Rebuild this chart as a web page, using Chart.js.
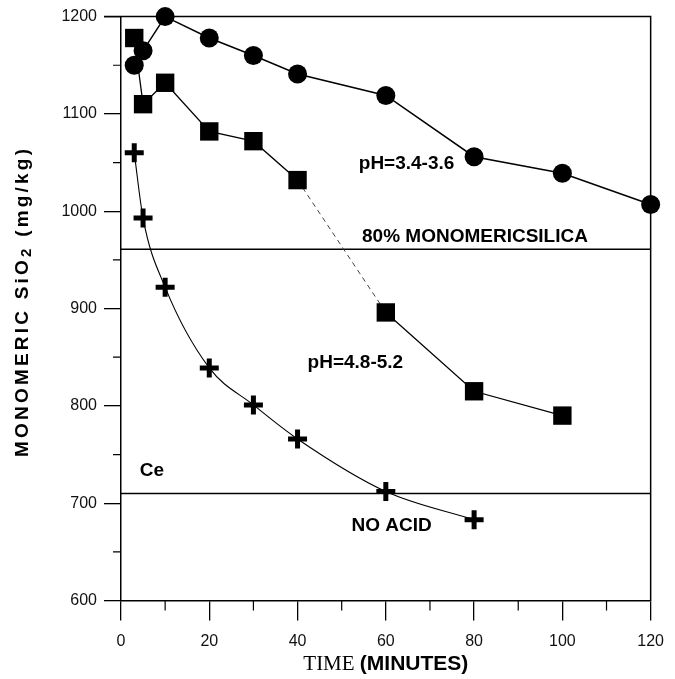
<!DOCTYPE html>
<html>
<head>
<meta charset="utf-8">
<script src="https://cdn.jsdelivr.net/npm/chart.js@4.4.1/dist/chart.umd.min.js"></script>
<style>
  html, body { margin: 0; padding: 0; background: #fff; }
  #wrap { width: 675px; height: 679px; }
</style>
</head>
<body>
<div id="wrap"><canvas id="grafica" width="675" height="679"></canvas></div>
<script>
// Datos (tiempo en minutos, SiO2 en mg/kg)
const tiempos = [3, 5, 10, 20, 30, 40, 60, 80, 100, 120];
const sio2Ph34 = [1150, 1165, 1200, 1178, 1160, 1141, 1119, 1056, 1039, 1007];
const sio2Ph48 = [1178, 1110, 1132, 1082, 1072, 1032, 896, 815, 790];
const sio2SinAcido = [1060, 993, 922, 839, 801, 766, 712, 683];
const valorCe = 710;
const limite80 = 961;
const ticksX = [0, 20, 40, 60, 80, 100, 120];
const ticksXMenores = [10, 30, 50, 70, 90, 110];
const ticksY = [600, 700, 800, 900, 1000, 1100, 1200];
const ticksYMenores = [650, 750, 850, 950, 1050, 1150];

// Rótulos dentro del gráfico (texto, minuto, valor)
const notas = [
    ['pH=3.4-3.6', 64.7, 1049],
    ['80% MONOMERICSILICA', 80.2, 974],
    ['pH=4.8-5.2', 53.1, 844],
    ['Ce', 7, 733],
    ['NO ACID', 61.3, 677]
];

function puntos(ys) {
    return ys.map((y, i) => ({ x: tiempos[i], y: y }));
}

const SANS = "'Liberation Sans', Arial, sans-serif";

// Marco, líneas auxiliares, ticks menores, títulos y rótulos
const decoracion = {
    id: 'decoracion',
    beforeDatasetsDraw(chart) {
        const ctx = chart.ctx;
        const a = chart.chartArea;
        const sx = chart.scales.x;
        const sy = chart.scales.y;
        ctx.save();
        ctx.strokeStyle = '#000';
        ctx.lineWidth = 1.5;
        ctx.beginPath();
        ctx.moveTo(a.left - 17, a.top);
        ctx.lineTo(a.right, a.top);
        ctx.lineTo(a.right, a.bottom);
        const yl = sy.getPixelForValue(limite80);
        ctx.moveTo(a.left, yl);
        ctx.lineTo(a.right, yl);
        ctx.stroke();

        ctx.lineWidth = 1.2;
        ctx.beginPath();
        ticksXMenores.forEach(v => {
            const px = sx.getPixelForValue(v);
            ctx.moveTo(px, a.bottom);
            ctx.lineTo(px, a.bottom + 10);
        });
        ticksYMenores.forEach(v => {
            const py = sy.getPixelForValue(v);
            ctx.moveTo(a.left - 8, py);
            ctx.lineTo(a.left, py);
        });
        ctx.stroke();
        ctx.restore();
    },
    afterDraw(chart) {
        const ctx = chart.ctx;
        const a = chart.chartArea;
        const sx = chart.scales.x;
        const sy = chart.scales.y;
        ctx.save();
        ctx.fillStyle = '#000';
        ctx.textAlign = 'center';
        ctx.textBaseline = 'middle';
        ctx.font = 'bold 19px ' + SANS;
        notas.forEach(n => {
            ctx.fillText(n[0], sx.getPixelForValue(n[1]), sy.getPixelForValue(n[2]));
        });

        // Título del eje X: "TIME" con serifa y "(MINUTES)" en negrita
        const f1 = "21px 'Liberation Serif', 'Times New Roman', serif";
        const f2 = 'bold 21px ' + SANS;
        ctx.font = f1;
        const w1 = ctx.measureText('TIME ').width;
        ctx.font = f2;
        const w2 = ctx.measureText('(MINUTES)').width;
        let x0 = (a.left + a.right) / 2 - (w1 + w2) / 2;
        ctx.textAlign = 'left';
        ctx.textBaseline = 'alphabetic';
        ctx.font = f1;
        ctx.fillText('TIME ', x0, 670);
        ctx.font = f2;
        ctx.fillText('(MINUTES)', x0 + w1, 670);

        // Título del eje Y, girado y espaciado
        const letras = [];
        'MONOMERIC SiO'.split('').forEach(c => letras.push([c, 'bold 19px ' + SANS, 0]));
        letras.push(['2', 'bold 15px ' + SANS, 4]);
        ' (mg/kg)'.split('').forEach(c => letras.push([c, 'bold 19px ' + SANS, 0]));
        let suma = 0;
        letras.forEach(l => { ctx.font = l[1]; l.push(ctx.measureText(l[0]).width); suma += l[3]; });
        const largo = 308;
        const esp = (largo - suma) / (letras.length - 1);
        ctx.translate(23, 303);
        ctx.rotate(-Math.PI / 2);
        ctx.textBaseline = 'middle';
        let pos = -largo / 2;
        letras.forEach(l => {
            ctx.font = l[1];
            ctx.fillText(l[0], pos, l[2]);
            pos += l[3] + esp;
        });
        ctx.restore();
    }
};

const ctx = document.getElementById('grafica').getContext('2d');
new Chart(ctx, {
    type: 'line',
    data: {
        datasets: [
            {
                label: 'pH=3.4-3.6',
                data: puntos(sio2Ph34),
                borderColor: '#000',
                borderWidth: 1.5,
                backgroundColor: '#000',
                pointStyle: 'circle',
                pointRadius: 9.5,
                pointBorderWidth: 0,
                tension: 0,
                clip: false,
                order: 1
            },
            {
                label: 'pH=4.8-5.2',
                data: puntos(sio2Ph48),
                borderColor: '#000',
                borderWidth: 1.3,
                backgroundColor: '#000',
                pointStyle: 'rect',
                pointRadius: 13,
                pointBorderWidth: 0,
                tension: 0,
                clip: false,
                order: 2,
                segment: {
                    borderDash: c => c.p0DataIndex === 5 ? [5, 4] : undefined,
                    borderWidth: c => c.p0DataIndex === 5 ? 1 : undefined,
                    borderColor: c => c.p0DataIndex === 5 ? '#444' : undefined
                }
            },
            {
                label: 'NO ACID',
                data: puntos(sio2SinAcido),
                borderColor: '#000',
                borderWidth: 1.1,
                backgroundColor: '#000',
                pointStyle: 'cross',
                pointRadius: 9.5,
                pointBorderWidth: 5,
                pointBorderColor: '#000',
                cubicInterpolationMode: 'monotone',
                clip: false,
                order: 3
            },
            {
                label: 'Ce',
                data: [{ x: 0, y: valorCe }, { x: 120, y: valorCe }],
                borderColor: '#000',
                borderWidth: 1.5,
                pointRadius: 0,
                order: 4
            }
        ]
    },
    options: {
        responsive: false,
        animation: false,
        devicePixelRatio: 1,
        layout: { padding: { top: 15.5, right: 15.5, left: 0, bottom: 0 } },
        plugins: { legend: { display: false }, tooltip: { enabled: false } },
        scales: {
            x: {
                type: 'linear',
                min: 0,
                max: 120,
                afterBuildTicks: s => { s.ticks = ticksX.map(v => ({ value: v })); },
                afterFit: s => { s.height = 78.5; },
                grid: { drawOnChartArea: false, tickLength: 20, color: '#000', lineWidth: 1.3 },
                border: { color: '#000', width: 1.5 },
                ticks: { color: '#111', font: { family: SANS, size: 16 }, padding: 11, maxRotation: 0, autoSkip: false,
                         callback: v => String(v) }
            },
            y: {
                min: 600,
                max: 1200,
                afterBuildTicks: s => { s.ticks = ticksY.map(v => ({ value: v })); },
                afterFit: s => { s.width = 121; },
                grid: { drawOnChartArea: false, tickLength: 17, color: '#000', lineWidth: 1.3 },
                border: { color: '#000', width: 1.5 },
                ticks: { color: '#111', font: { family: SANS, size: 16 }, padding: 7, autoSkip: false,
                         callback: v => String(v) }
            }
        }
    },
    plugins: [decoracion]
});
</script>
</body>
</html>
